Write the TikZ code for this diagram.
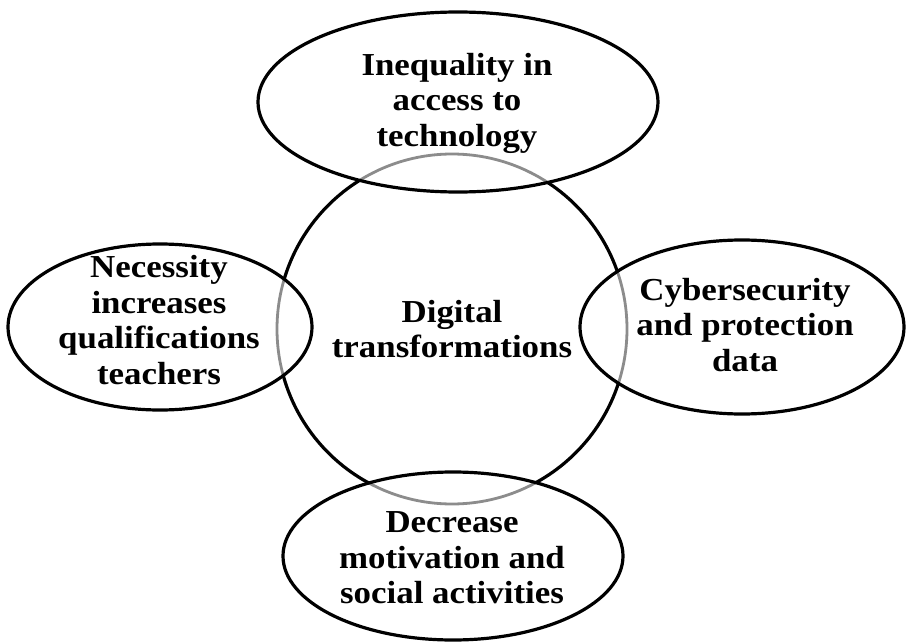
\documentclass[tikz,border=0pt]{standalone}
\usepackage{fontspec}
\setmainfont{Liberation Serif}[FakeStretch=1.09]
\tikzset{
  ring/.style={line width=3.2pt, draw=black},
  innerarc/.style={line width=2.8pt, draw=black!45},
  lbl/.style={align=center, inner sep=0pt, font=\fontsize{32}{35.5}\selectfont\bfseries},
}
\begin{document}
\begin{tikzpicture}[x=1pt,y=-1pt]
\useasboundingbox (0,0) rectangle (906,642);
\coordinate (cc) at (452,329);
\coordinate (et) at (458,102);
\coordinate (el) at (160,327);
\coordinate (er) at (742,327);
\coordinate (eb) at (453,556);
\draw[ring] (cc) circle [radius=175];
\foreach \p/\a/\b in {et/200/90, el/152/83, er/162/87, eb/170/84} {
  \fill[white] (\p) ellipse [x radius=\a, y radius=\b];
  \begin{scope}
    \clip (\p) ellipse [x radius=\a, y radius=\b];
    \draw[innerarc] (cc) circle [radius=175];
  \end{scope}
  \draw[ring] (\p) ellipse [x radius=\a, y radius=\b];
}
\node[lbl] (center) at (452,329) {Digital\\transformations};
\node[lbl] (top) at (457,103) {Inequality in\\access to\\technology};
\node[lbl] (left) at (159,320) {Necessity\\increases\\qualifications\\teachers};
\node[lbl] (right) at (745,325) {Cybersecurity\\and protection\\data};
\node[lbl] (bottom) at (452,558) {Decrease\\motivation and\\social activities};
\end{tikzpicture}
\end{document}
